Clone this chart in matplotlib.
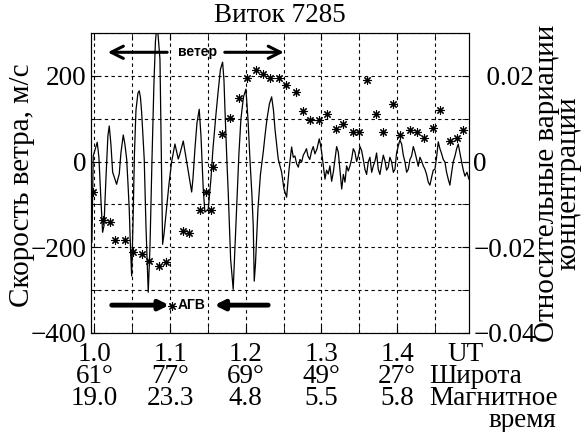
import matplotlib
matplotlib.use('Agg')
import matplotlib.pyplot as plt
from matplotlib.ticker import MultipleLocator
from matplotlib.transforms import blended_transform_factory

plt.rcParams['font.family'] = ['Liberation Serif', 'DejaVu Serif']
plt.rcParams['font.size'] = 19.5

# ----------
# Data
# ----------
# wind speed, m/s, vs UT - large oscillations part
ut_osc = [0.9967, 0.9984, 1.0037, 1.0059, 1.0086, 1.0108, 1.0126, 1.0152, 1.0178, 1.0196,
          1.0218, 1.0241, 1.0271, 1.0293, 1.0311, 1.0328, 1.0350, 1.0381, 1.0403, 1.0426,
          1.0443, 1.0460, 1.0476, 1.0492, 1.0509, 1.0529, 1.0549, 1.0575, 1.0592, 1.0608,
          1.0624, 1.0641, 1.0658, 1.0681, 1.0711, 1.0734, 1.0760, 1.0786, 1.0806, 1.0822,
          1.0839, 1.0866, 1.0886, 1.0901, 1.0919, 1.0945, 1.0985, 1.1020, 1.1064, 1.1108,
          1.1130, 1.1174, 1.1209, 1.1240, 1.1285, 1.1302, 1.1328, 1.1355, 1.1385, 1.1408,
          1.1438, 1.1460, 1.1504, 1.1540, 1.1566, 1.1606, 1.1632, 1.1665, 1.1694, 1.1712,
          1.1725, 1.1751, 1.1768, 1.1800, 1.1834, 1.1857, 1.1883, 1.1910, 1.1936, 1.1969,
          1.2002, 1.2029, 1.2055, 1.2082, 1.2099, 1.2112, 1.2128, 1.2161, 1.2194, 1.2231,
          1.2254, 1.2280, 1.2313, 1.2342, 1.2366, 1.2386, 1.2429, 1.2474, 1.2505, 1.2540,
          1.2571]
wind_osc = [-188, 13, 45, 10, -90, -165, -150, -40, 60, 83,
            40, -25, -41, -53, -40, -29, 20, 62, 40, 6,
            -50, -111, -200, -267, -150, 20, 120, 160, 165, 150,
            115, 60, 6, -150, -305, -200, 0, 180, 280, 310,
            300, 239, 0, -193, -170, -123, -53, -1, 41, 6,
            18, 48, 10, -25, -71, -40, 29, 90, 122, 60,
            -64, -118, -111, -40, 29, 110, 158, 215, 232, 190,
            122, 0, -71, -228, -298, -200, -88, 20, 99, 150,
            169, 100, 6, -80, -151, -279, -240, -111, -30, 22,
            60, 99, 135, 151, 120, 76, 6, -25, -64, -83,
            -20]

# wind speed - small noisy part
ut_noise = [1.2606, 1.2628, 1.2650, 1.2672, 1.2694, 1.2716, 1.2739, 1.2760, 1.2782, 1.2802,
            1.2822, 1.2846, 1.2871, 1.2892, 1.2914, 1.2942, 1.2971, 1.2987, 1.3003, 1.3025,
            1.3047, 1.3068, 1.3090, 1.3112, 1.3135, 1.3157, 1.3179, 1.3201, 1.3223, 1.3245,
            1.3268, 1.3290, 1.3311, 1.3333, 1.3355, 1.3377, 1.3399, 1.3421, 1.3443, 1.3465,
            1.3487, 1.3510, 1.3532, 1.3553, 1.3575, 1.3597, 1.3619, 1.3641, 1.3664, 1.3686,
            1.3708, 1.3729, 1.3751, 1.3773, 1.3796, 1.3818, 1.3840, 1.3861, 1.3883, 1.3905,
            1.3928, 1.3950, 1.3972, 1.3993, 1.4015, 1.4037, 1.4060, 1.4082, 1.4104, 1.4126,
            1.4148, 1.4170, 1.4192, 1.4214, 1.4236, 1.4258, 1.4280, 1.4302, 1.4325, 1.4346,
            1.4368, 1.4390, 1.4412, 1.4434, 1.4457, 1.4478, 1.4500, 1.4522, 1.4544, 1.4566,
            1.4589, 1.4610, 1.4632, 1.4654, 1.4676, 1.4698, 1.4721, 1.4743, 1.4765, 1.4787,
            1.4808, 1.4830, 1.4853, 1.4875, 1.4897, 1.4923, 1.4950]
wind_noise = [34, 10, 13, -5, -13, 5, -1, 15, 22, 30,
              13, 5, 25, 35, 18, 30, 53, 40, 22, -10,
              -41, -20, -29, -10, -46, -25, 6, 35, 22, -20,
              -64, -30, -48, -10, -22, -10, 6, 30, 22, 0,
              13, 35, 25, 5, -18, -30, -1, 10, -25, -10,
              1, 20, -18, -30, -6, 15, 1, -20, -13, 10,
              -1, -25, -18, 20, 36, 50, 41, 15, -1, -25,
              -18, 5, 13, 35, 22, 5, -11, 10, 1, -10,
              -18, -30, -48, -55, -36, -20, -18, 10, 46, 30,
              18, 5, -1, -25, -41, -55, -25, 0, 13, 30,
              41, 20, -1, -20, -34, -25, -41]

# relative concentration variations (stars)
conc_ut = [0.998, 1.011, 1.020, 1.027, 1.040, 1.051, 1.063, 1.072, 1.085, 1.095,
           1.103, 1.117, 1.125, 1.139, 1.147, 1.154, 1.157, 1.169, 1.179, 1.191,
           1.201, 1.213, 1.223, 1.232, 1.244, 1.253, 1.266, 1.276, 1.285, 1.297,
           1.307, 1.319, 1.328, 1.342, 1.350, 1.360, 1.372, 1.382, 1.395, 1.404,
           1.417, 1.426, 1.435, 1.448, 1.457, 1.470, 1.479, 1.487]
conc = [-0.0072, -0.0137, -0.0140, -0.0184, -0.0183, -0.0210, -0.0215, -0.0231, -0.0243, -0.0234,
        -0.0336, -0.0162, -0.0166, -0.0114, -0.0071, -0.0113, -0.0012, 0.0065, 0.0101, 0.0148,
        0.0195, 0.0213, 0.0205, 0.0196, 0.0196, 0.0179, 0.0163, 0.0119, 0.0097, 0.0097,
        0.0111, 0.0076, 0.0088, 0.0070, 0.0070, 0.0190, 0.0112, 0.0070, 0.0134, 0.0063,
        0.0074, 0.0070, 0.0055, 0.0078, 0.0121, 0.0047, 0.0055, 0.0074]

ut_ticks = [1.0, 1.1, 1.2, 1.3, 1.4]
ut_labels = ['1.0', '1.1', '1.2', '1.3', '1.4']
lat_labels = ['61°', '77°', '69°', '49°', '27°']
mlt_labels = ['19.0', '23.3', '4.8', '5.5', '5.8']
conc_ticks = [-0.04, -0.02, 0.0, 0.02]
conc_labels = ['\u22120.04', '\u22120.02', '0', '  0.02']

# ----------
# Figure
# ----------
fig = plt.figure(figsize=(5.82, 4.32), dpi=100)
ax = fig.add_axes([0.1564, 0.2292, 0.6494, 0.6944])

ax.plot(ut_osc + ut_noise, wind_osc + wind_noise, color='k', lw=0.9)
ax.set_xlim(0.9955, 1.495)
ax.set_ylim(-400, 300)
ax.xaxis.set_major_locator(MultipleLocator(0.1))
ax.xaxis.set_minor_locator(MultipleLocator(0.05))
ax.yaxis.set_major_locator(MultipleLocator(200))
ax.yaxis.set_minor_locator(MultipleLocator(100))
ax.grid(True, which='both', color='k', lw=0.8, ls=(0, (3, 3)))
ax.tick_params(which='both', direction='in', length=5, top=True, bottom=True)
ax.tick_params(axis='x', labelbottom=False)
ax.set_title('Виток 7285', fontsize=19.5, pad=8)

ax2 = ax.twinx()
ax2.plot(conc_ut, conc, ls='none', marker=(8, 2, 0), ms=6, mec='k', mew=0.8)
ax2.set_ylim(-0.04, 0.03)
ax2.set_yticks(conc_ticks, conc_labels)
ax2.yaxis.set_minor_locator(MultipleLocator(0.01))
ax2.tick_params(which='both', direction='in', length=5, pad=3)

fig.text(0.0378, 0.572, 'Скорость ветра, м/с', rotation=90, ha='center', va='center',
         fontsize=21)
fig.text(0.9588, 0.576, 'Относительные вариации\nконцентрации', rotation=90,
         ha='center', va='center', linespacing=0.76, multialignment='center', fontsize=21)

# arrows
lbl = dict(family='Liberation Sans', weight='bold', fontsize=10, ha='center', va='center')
ax.annotate('', xy=(1.0139, 255), xytext=(1.0998, 255),
            arrowprops=dict(arrowstyle='->', lw=2.2, color='k', mutation_scale=22))
ax.annotate('', xy=(1.2540, 255), xytext=(1.1686, 255),
            arrowprops=dict(arrowstyle='->', lw=2.2, color='k', mutation_scale=22))
ax.text(1.1361, 255, 'ветер', **lbl)
ax.annotate('', xy=(1.1024, -335), xytext=(1.0192, -335),
            arrowprops=dict(arrowstyle='-|>', lw=3.5, color='k', mutation_scale=14))
ax.annotate('', xy=(1.1549, -335), xytext=(1.2333, -335),
            arrowprops=dict(arrowstyle='-|>', lw=3.5, color='k', mutation_scale=14))
ax.text(1.1282, -335, 'АГВ', **lbl)

# bottom rows: UT, latitude, magnetic local time
tr = blended_transform_factory(ax.transData, fig.transFigure)
for x, a, b, c in zip(ut_ticks, ut_labels, lat_labels, mlt_labels):
    ax.text(x, 0.180, a, transform=tr, ha='center', va='center')
    ax.text(x, 0.129, b, transform=tr, ha='center', va='center')
    ax.text(x, 0.078, c, transform=tr, ha='center', va='center')
fig.text(0.8007, 0.180, 'UT', ha='center', va='center')
fig.text(0.737, 0.129, 'Широта', ha='left', va='center')
fig.text(0.737, 0.078, 'Магнитное', ha='left', va='center')
fig.text(0.955, 0.027, 'время', ha='right', va='center')

fig.savefig('out.png', dpi=100)
